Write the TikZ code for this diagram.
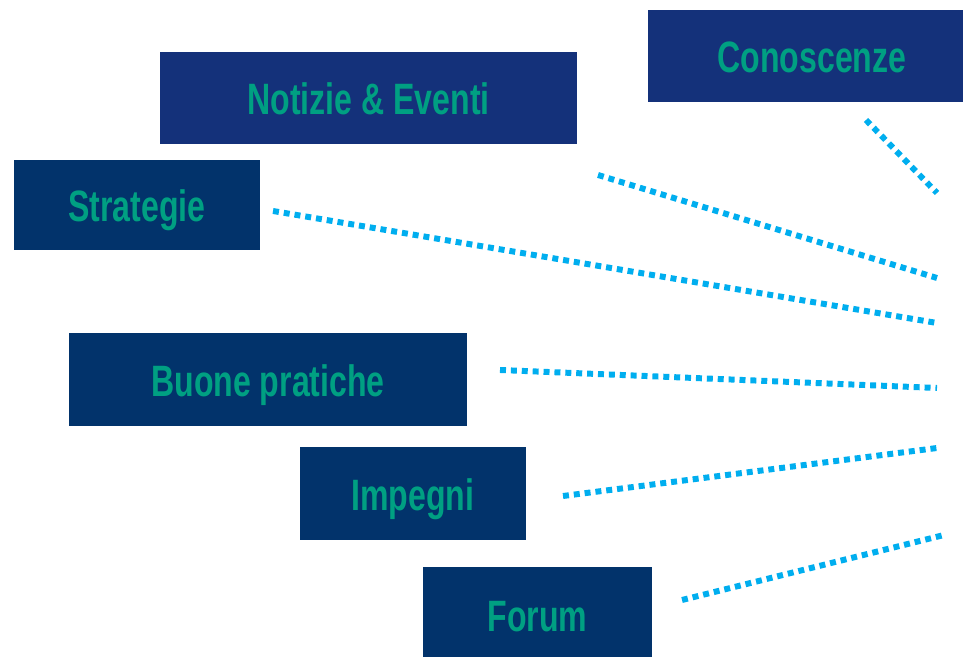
\documentclass[tikz,border=0pt]{standalone}
\usepackage{fontspec}
\setmainfont[FakeStretch=0.73]{Liberation Sans}
\usepackage{tikz}

\definecolor{bleuA}{HTML}{14317A}
\definecolor{bleuB}{HTML}{02336B}
\definecolor{vert}{HTML}{00A082}
\definecolor{cyan}{HTML}{00AEEF}

\begin{document}
\begin{tikzpicture}[
    boite/.style={fill=#1, text=vert, inner sep=0pt,
      text height=0.74cm, text depth=0.06cm,
      font=\fontsize{25}{28}\selectfont\bfseries},
    lien/.style={cyan, line width=3.4pt, dash pattern=on 3.4pt off 2.8pt}]
  \useasboundingbox (0,0) rectangle (19.26,13.14) ;

  % les boites
  \node[boite=bleuA, minimum width=6.56cm, minimum height=1.84cm]
    (conn) at (16.24,12.02) {Conoscenze} ;
  \node[boite=bleuA, minimum width=8.34cm, minimum height=1.84cm]
    (noti) at (7.37,11.18) {Notizie \& Eventi} ;
  \node[boite=bleuB, minimum width=4.92cm, minimum height=1.80cm]
    (strat) at (2.74,9.04) {Strategie} ;
  \node[boite=bleuB, minimum width=7.96cm, minimum height=1.86cm]
    (buone) at (5.36,5.55) {Buone pratiche} ;
  \node[boite=bleuB, minimum width=4.52cm, minimum height=1.86cm]
    (imp) at (8.26,3.27) {Impegni} ;
  \node[boite=bleuB, minimum width=4.58cm, minimum height=1.90cm]
    (forum) at (10.75,0.85) {Forum} ;

  % extremites des liens
  \coordinate (d1) at (17.32,10.74) ; \coordinate (f1) at (18.74,9.28) ;
  \coordinate (d2) at (11.96,9.64) ;  \coordinate (f2) at (18.74,7.58) ;
  \coordinate (d3) at (5.46,8.92) ;   \coordinate (f3) at (18.74,6.68) ;
  \coordinate (d4) at (10.00,5.74) ;  \coordinate (f4) at (18.74,5.38) ;
  \coordinate (d5) at (11.26,3.22) ;  \coordinate (f5) at (18.74,4.18) ;
  \coordinate (d6) at (13.64,1.14) ;  \coordinate (f6) at (18.88,2.44) ;

  \foreach \i in {1,...,6} {
    \draw[lien] (d\i) -- (f\i) ;
  }
\end{tikzpicture}
\end{document}
